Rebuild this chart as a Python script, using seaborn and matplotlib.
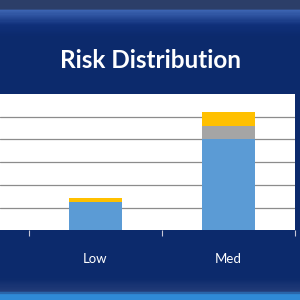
import numpy as np
import pandas as pd
import matplotlib
matplotlib.use("Agg")
import matplotlib.pyplot as plt
import seaborn as sns
from matplotlib.colors import LinearSegmentedColormap

# data (one gridline = 10)
categories = ["Low", "Med"]
blue_vals = [12.5, 40]
gray_vals = [0, 5.7]
yellow_vals = [1.7, 6.3]

NAVY = "#0c2a6c"
BLUE = "#5b9bd5"
GRAY = "#a5a5a5"
YELLOW = "#ffc000"

df = pd.DataFrame({"category": categories, "blue": blue_vals,
                   "gray": gray_vals, "yellow": yellow_vals})
df["lvl2"] = df["blue"] + df["gray"]
df["total"] = df["lvl2"] + df["yellow"]

sns.set_theme(style="white")
plt.rcParams["font.family"] = ["Lato", "DejaVu Sans"]

fig = plt.figure(figsize=(3, 3), dpi=100)
fig.patch.set_facecolor(NAVY)

# background banding (header / footer gradient), row 0 = top
bg = fig.add_axes([0, 0, 1, 1], zorder=0)
bg.axis("off")
stops = [(0.0, "#2c3e68"), (0.026, "#2c3e68"), (0.03, "#3d65b3"),
         (0.08, "#10307a"), (0.12, NAVY), (0.93, NAVY),
         (0.975, "#233c78"), (0.985, "#2f8ad6"), (1.0, "#2f8ad6")]
cmap = LinearSegmentedColormap.from_list("band", stops)
grad = np.linspace(0, 1, 300).reshape(-1, 1)
bg.imshow(grad, aspect="auto", cmap=cmap, extent=[0, 1, 0, 1], origin="upper")
bg.set_xlim(0, 1)
bg.set_ylim(0, 1)

fig.text(0.5, 0.797, "Risk Distribution", ha="center", va="center",
         color="white", fontsize=17.5, fontweight="bold")

ax = fig.add_axes([0, 0.232, 0.983, 0.455], zorder=1)
ax.set_facecolor("white")

for col, c in [("total", YELLOW), ("lvl2", GRAY), ("blue", BLUE)]:
    sns.barplot(data=df, x="category", y=col, color=c, width=0.4,
                saturation=1, linewidth=0, ax=ax, zorder=3)

ax.set_ylim(0, 60)
ax.set_xlim(-0.718, 1.5)
ax.set_yticks([10, 20, 30, 40, 50])
ax.yaxis.grid(True, color="#8c8c8c", linewidth=0.9)
ax.set_axisbelow(True)
ax.tick_params(axis="y", left=False, labelleft=False)
ax.set_xlabel("")
ax.set_ylabel("")
ax.set_xticks([-0.5, 0.5, 1.5], minor=True)
ax.tick_params(axis="x", which="minor", bottom=True, length=4,
               color="#c8c8d8", width=0.8, direction="out")
ax.tick_params(axis="x", which="major", bottom=False, pad=10,
               labelcolor="white", labelsize=9.5)
for s in ax.spines.values():
    s.set_visible(False)

fig.savefig("out.png", dpi=100, facecolor=fig.get_facecolor())
